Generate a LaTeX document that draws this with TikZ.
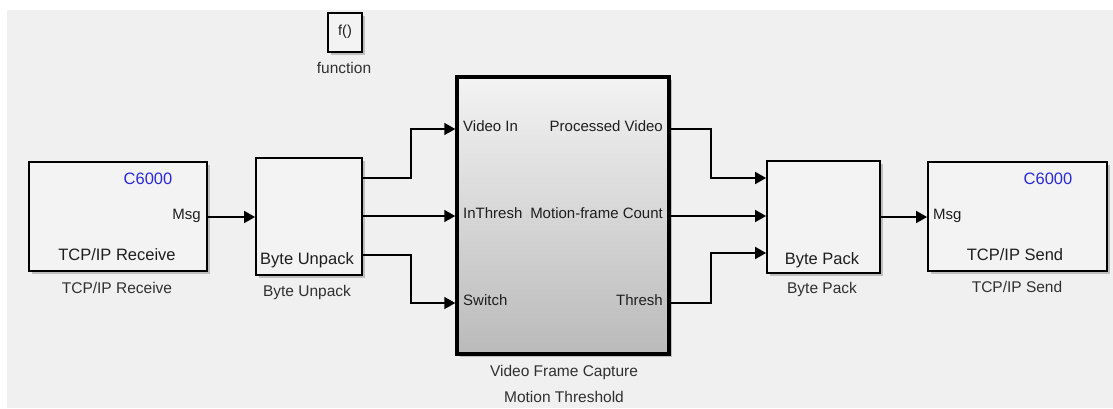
\documentclass[tikz,border=0pt]{standalone}
\usepackage{fontspec}
\setmainfont{Liberation Sans}
\usetikzlibrary{arrows.meta,shadows}
\definecolor{bg}{HTML}{F0F0F0}
\definecolor{blkfill}{HTML}{F3F3F3}
\definecolor{cblue}{HTML}{2A2AD8}
\definecolor{txt}{HTML}{1E1E1E}
\definecolor{utxt}{HTML}{303030}
\begin{document}
\begin{tikzpicture}[x=1pt,y=-1pt,
  blk/.style={draw=black, line width=1.8pt, fill=blkfill, inner sep=0pt,
    drop shadow={shadow xshift=2.5pt, shadow yshift=-2.5pt, opacity=0.3, fill=black!70}},
  wire/.style={line width=1.7pt, -{Triangle[length=11pt,width=12pt]}},
  intext/.style={font=\fontsize{16.5}{18}\selectfont, inner sep=0pt, text=txt},
  port/.style={font=\fontsize{15}{17}\selectfont, inner sep=0pt, text=txt},
  under/.style={font=\fontsize{15.5}{17}\selectfont, inner sep=0pt, text=utxt},
]
\useasboundingbox (0,0) rectangle (1113,408);
\fill[white] (0,0) rectangle (1113,408);
\fill[bg] (7,10) rectangle (1113,408);

% function block
\node[blk, line width=1.6pt, minimum width=34pt, minimum height=39pt] (fn) at (345,32.5) {};
\node[font=\fontsize{14.5}{16}\selectfont, inner sep=0pt, text=txt] (fnt) at (345,32) {f()};
\node[under] (fnl) at (344,68) {function};

% TCP/IP Receive
\node[blk, minimum width=178pt, minimum height=109pt] (rx) at (118,216.5) {};
\node[intext, text=cblue] (rxc) at (148,179) {C6000};
\node[port, anchor=mid east] (rxmsg) at (201,217) {Msg};
\node[intext] (rxt) at (117,255) {TCP/IP Receive};
\node[under] (rxl) at (117,288) {TCP/IP Receive};

% Byte Unpack
\node[blk, minimum width=106pt, minimum height=117pt] (bu) at (309,216.5) {};
\node[intext] (but) at (307,260) {Byte Unpack};
\node[under] (bul) at (307,292) {Byte Unpack};

% Main subsystem
\node[blk, line width=3.5pt, top color=blkfill, middle color=black!11, bottom color=black!27,
  minimum width=212pt, minimum height=277pt] (vfc) at (563,215.5) {};
\node[port, anchor=mid west] (vin) at (463,129) {Video In};
\node[port, anchor=mid west] (inth) at (463,216) {InThresh};
\node[port, anchor=mid west] (sw) at (463,303) {Switch};
\node[port, anchor=mid east] (pv) at (663,129) {Processed Video};
\node[port, anchor=mid east] (mfc) at (663,216) {Motion-frame Count};
\node[port, anchor=mid east] (th) at (663,303) {Thresh};
\node[under] (vfcl1) at (564,372) {Video Frame Capture};
\node[under] (vfcl2) at (564,397) {Motion Threshold};

% Byte Pack
\node[blk, minimum width=113pt, minimum height=112pt] (bp) at (823.5,217) {};
\node[intext] (bpt) at (822,260) {Byte Pack};
\node[under] (bpl) at (822,289) {Byte Pack};

% TCP/IP Send
\node[blk, minimum width=179pt, minimum height=109pt] (tx) at (1017.5,216.5) {};
\node[intext, text=cblue] (txc) at (1048,179) {C6000};
\node[port, anchor=mid west] (txmsg) at (933,217) {Msg};
\node[intext] (txt) at (1015,255) {TCP/IP Send};
\node[under] (txl) at (1017,287) {TCP/IP Send};

% wires
\draw[wire] (rx.east |- rxmsg.mid) -- (bu.west |- rxmsg.mid);
\draw[wire] ([yshift=38.5pt]bu.east) -- ++(48,0) |- (vfc.west |- vin.mid);
\draw[wire] (bu.east |- inth.mid) -- (vfc.west |- inth.mid);
\draw[wire] ([yshift=-38.5pt]bu.east) -- ++(48,0) |- (vfc.west |- sw.mid);
\draw[wire] (vfc.east |- pv.mid) -- ++(40,0) |- ([yshift=39pt]bp.west);
\draw[wire] (vfc.east |- mfc.mid) -- (bp.west |- mfc.mid);
\draw[wire] (vfc.east |- th.mid) -- ++(40,0) |- ([yshift=-36pt]bp.west);
\draw[wire] (bp.east |- txmsg.mid) -- (tx.west |- txmsg.mid);
\end{tikzpicture}
\end{document}
